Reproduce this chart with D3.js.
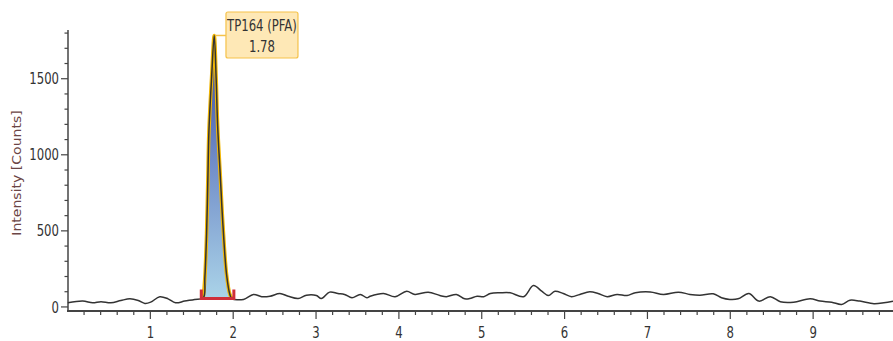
<!DOCTYPE html>
<html>
<head>
<meta charset="utf-8">
<script src="https://cdn.jsdelivr.net/npm/d3@7"></script>
<style>
  html, body { margin: 0; padding: 0; background: #fff; }
  svg { display: block; }
  text { font-family: "DejaVu Sans Condensed", "DejaVu Sans", sans-serif; }
</style>
</head>
<body>
<svg id="chart" width="893" height="341"></svg>
<script>
// Chromatogram trace: retention time (min) and intensity (counts)
const times = [
  0.01, 0.19, 0.31, 0.41, 0.53, 0.65, 0.76, 0.86, 0.94, 1.01, 1.12, 1.22, 1.31, 1.42, 1.54, 1.645,
  1.664, 1.685, 1.70, 1.713, 1.745, 1.777, 1.80, 1.818, 1.85, 1.882, 1.926, 1.966, 1.99,
  2.13, 2.25, 2.35, 2.45, 2.57, 2.67, 2.79, 2.89, 3.01, 3.07, 3.17, 3.27, 3.35, 3.44, 3.54, 3.62,
  3.66, 3.82, 3.96, 4.10, 4.20, 4.36, 4.50, 4.58, 4.70, 4.80, 4.86, 4.95, 5.03, 5.11, 5.23, 5.35,
  5.51, 5.63, 5.73, 5.81, 5.89, 5.99, 6.09, 6.19, 6.31, 6.41, 6.52, 6.64, 6.76, 6.86, 7.04,
  7.20, 7.38, 7.52, 7.64, 7.80, 7.90, 8.00, 8.10, 8.23, 8.35, 8.49, 8.61, 8.77, 8.97, 9.09,
  9.23, 9.35, 9.45, 9.57, 9.74, 9.86, 9.97
];
const intensities = [
  24, 35, 24, 31, 24, 39, 50, 39, 20, 28, 64, 50, 24, 35, 46, 57,
  190, 480, 830, 1150, 1500, 1781, 1500, 1190, 860, 537, 210, 79, 52,
  46, 79, 64, 67, 85, 67, 52, 74, 72, 52, 94, 85, 79, 57, 79, 57,
  67, 85, 64, 100, 79, 94, 72, 64, 79, 50, 52, 67, 64, 85, 90, 90,
  64, 137, 100, 72, 100, 85, 64, 79, 96, 85, 64, 79, 72, 90, 95,
  79, 94, 79, 74, 83, 57, 46, 50, 85, 35, 64, 31, 28, 50, 35,
  28, 13, 41, 35, 18, 24, 35
];

// Integrated peak
const peakName = "TP164 (PFA)";
const peakRt = 1.78;
const peakApex = 1781;
const peakStart = 1.645;
const peakEnd = 1.99;
const peakBaseline = 55;

// Axis ticks
const xMajorTicks = [1, 2, 3, 4, 5, 6, 7, 8, 9];
const xMinorTicks = d3.range(1, 50).map(i => i * 0.2).filter(v => Math.abs(v - Math.round(v)) > 1e-6);
const yMajorTicks = [0, 500, 1000, 1500];
const yMinorTicks = [100, 200, 300, 400, 600, 700, 800, 900, 1100, 1200, 1300, 1400, 1600, 1700, 1800];
const yTitle = "Intensity [Counts]";

const svg = d3.select("#chart");
const TEXT_STRETCH = 1.2;

const x = d3.scaleLinear().domain([0, 9.97]).range([67, 893]);
const y = d3.scaleLinear().domain([-30, 1817]).range([311, 30]);

const trace = times.map((t, i) => ({ t, v: intensities[i] }));

// Peak fill gradient
const defs = svg.append("defs");
const grad = defs.append("linearGradient")
  .attr("id", "peakFill")
  .attr("gradientUnits", "userSpaceOnUse")
  .attr("x1", 0).attr("x2", 0)
  .attr("y1", y(peakApex)).attr("y2", y(peakBaseline));
grad.append("stop").attr("offset", "0%").attr("stop-color", "#34449c");
grad.append("stop").attr("offset", "45%").attr("stop-color", "#6d88c6");
grad.append("stop").attr("offset", "100%").attr("stop-color", "#aad3e8");

// Axes
const xAxisG = svg.append("g").attr("transform", `translate(0,${y.range()[0]})`);
xAxisG.call(d3.axisBottom(x).tickValues(xMinorTicks).tickSize(4).tickFormat(""))
  .call(g => g.select(".domain").remove());
const xMajor = svg.append("g").attr("transform", `translate(0,${y.range()[0]})`)
  .call(d3.axisBottom(x).tickValues(xMajorTicks).tickSize(8).tickFormat(d3.format("d")));
xMajor.select(".domain").attr("stroke-width", 2.2).attr("d", `M${x(0)},0H893`);
xMajor.selectAll("text")
  .attr("y", 0).attr("dy", 0)
  .attr("transform", `translate(0,26.5) scale(1,${TEXT_STRETCH})`);

const yMinor = svg.append("g").attr("transform", `translate(68,0)`)
  .call(d3.axisLeft(y).tickValues(yMinorTicks).tickSize(3.5).tickFormat(""));
yMinor.select(".domain").remove();
const yMajor = svg.append("g").attr("transform", `translate(68,0)`)
  .call(d3.axisLeft(y).tickValues(yMajorTicks).tickSize(7).tickFormat(d3.format("d")));
yMajor.select(".domain").attr("stroke-width", 1.5).attr("d", `M0,${y.range()[1]}V${y.range()[0]}`);
yMajor.selectAll("text")
  .attr("x", 0).attr("dy", 0)
  .attr("transform", `translate(-9,5.6) scale(1,${TEXT_STRETCH})`);

svg.selectAll(".tick line").attr("stroke", "#444").attr("stroke-width", 1.2);
svg.selectAll(".domain").attr("stroke", "#444");
svg.selectAll(".tick text").attr("font-size", 13).attr("fill", "#333")
  .style("font-family", "'DejaVu Sans Condensed', 'DejaVu Sans', sans-serif");

// Y axis title
svg.append("text")
  .attr("transform", `translate(21,173) scale(1,${TEXT_STRETCH}) rotate(-90)`)
  .attr("text-anchor", "middle")
  .attr("font-size", 13)
  .attr("fill", "#6b4545")
  .text(yTitle);

// Peak area and outline
const curve = d3.curveCatmullRom.alpha(0.5);
const peakPts = trace.filter(d => d.t >= peakStart && d.t <= peakEnd);
const area = d3.area()
  .x(d => x(d.t)).y0(y(peakBaseline)).y1(d => y(d.v))
  .curve(curve);
svg.append("path").datum(peakPts)
  .attr("d", area)
  .attr("fill", "url(#peakFill)");

const line = d3.line().x(d => x(d.t)).y(d => y(d.v)).curve(curve);
svg.append("path").datum(peakPts)
  .attr("d", line)
  .attr("fill", "none")
  .attr("stroke", "#f2b705")
  .attr("stroke-width", 3.6)
  .attr("stroke-linejoin", "round");

// Whole trace
svg.append("path").datum(trace)
  .attr("d", line)
  .attr("fill", "none")
  .attr("stroke", "#333")
  .attr("stroke-width", 1.5)
  .attr("stroke-linejoin", "round");

// Integration baseline with end markers
const baseG = svg.append("g").attr("stroke", "#cf2f3a").attr("stroke-width", 3).attr("fill", "none");
const bx0 = x(peakStart) - 2, bx1 = x(peakEnd) + 2, by = y(peakBaseline) + 0.5;
baseG.append("path").attr("d", `M${bx0},${by - 9}V${by}H${bx1}V${by - 9}`)
  .attr("stroke-linejoin", "miter");

// Peak label box with connector
const ax = x(peakRt), ay = y(peakApex);
const boxX = ax + 11.5, boxY = 12, boxW = 72, boxH = 46;
svg.append("line")
  .attr("x1", ax + 1).attr("x2", boxX).attr("y1", ay).attr("y2", ay)
  .attr("stroke", "#f5c24a").attr("stroke-width", 1.5);
svg.append("rect")
  .attr("x", boxX).attr("y", boxY).attr("width", boxW).attr("height", boxH)
  .attr("rx", 2)
  .attr("fill", "#fee8b6").attr("stroke", "#f5c24a").attr("stroke-width", 1.2);
svg.append("text")
  .attr("transform", `translate(${boxX + boxW / 2},${boxY + 19}) scale(1,${TEXT_STRETCH})`)
  .attr("text-anchor", "middle").attr("font-size", 13).attr("fill", "#333")
  .text(peakName);
svg.append("text")
  .attr("transform", `translate(${boxX + boxW / 2},${boxY + 40}) scale(1,${TEXT_STRETCH})`)
  .attr("text-anchor", "middle").attr("font-size", 13).attr("fill", "#333")
  .text(d3.format(".2f")(peakRt));
</script>
</body>
</html>
